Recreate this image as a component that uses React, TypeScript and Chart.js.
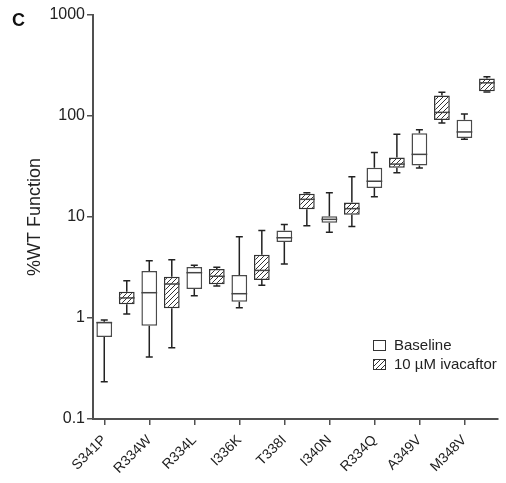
import React, { useEffect, useRef } from 'react';
import { Chart, registerables } from 'chart.js';
Chart.register(...registerables);

const mutations = ['S341P', 'R334W', 'R334L', 'I336K', 'T338I', 'I340N', 'R334Q', 'A349V', 'M348V'];
const baselineMin = [0.234, 0.41, 1.66, 1.26, 3.42, 7.05, 15.9, 30.5, 59];
const baselineQ1 = [0.65, 0.84, 1.94, 1.45, 5.66, 8.78, 19.4, 32.4, 60.5];
const baselineMedian = [0.9, 1.78, 2.81, 1.74, 6.23, 9.48, 22.6, 41.7, 69.5];
const baselineQ3 = [0.92, 2.92, 3.2, 2.66, 7.33, 10.16, 30.8, 67.3, 91.9];
const baselineMax = [0.955, 3.69, 3.32, 6.38, 8.44, 17.4, 43.6, 73.0, 104.8];
const ivaMin = [1.095, 0.508, 2.07, 2.11, 8.2, 8.03, 27.5, 85.1, 173];
const ivaQ1 = [1.37, 1.25, 2.16, 2.38, 11.9, 10.5, 30.8, 91.3, 176];
const ivaMedian = [1.58, 2.17, 2.59, 2.96, 14.96, 12.1, 33.4, 108.6, 213];
const ivaQ3 = [1.82, 2.56, 3.06, 4.24, 16.98, 13.9, 38.8, 160, 235];
const ivaMax = [2.34, 3.78, 3.18, 7.33, 17.4, 25.0, 65.8, 172, 244];
const yTicks = [0.1, 1, 10, 100, 1000];
const seriesNames = ['Baseline', '10 µM ivacaftor'];

const AXIS = '#505050';
const TEXT = '#222222';

function makeHatch(): CanvasPattern | string {
  const c = document.createElement('canvas');
  c.width = 5;
  c.height = 5;
  const g = c.getContext('2d');
  if (!g) return '#ccc';
  g.fillStyle = '#ffffff';
  g.fillRect(0, 0, 5, 5);
  g.strokeStyle = '#333333';
  g.lineWidth = 1;
  g.beginPath();
  g.moveTo(-1, 6);
  g.lineTo(6, -1);
  g.moveTo(-1, 1);
  g.lineTo(1, -1);
  g.moveTo(4, 6);
  g.lineTo(6, 4);
  g.stroke();
  const p = g.createPattern(c, 'repeat');
  return p || '#ccc';
}

const groups = [
  { min: baselineMin, q1: baselineQ1, med: baselineMedian, q3: baselineQ3, max: baselineMax },
  { min: ivaMin, q1: ivaQ1, med: ivaMedian, q3: ivaQ3, max: ivaMax },
];

const whiskerPlugin = {
  id: 'whiskers',
  afterDatasetsDraw(chart: any) {
    const ctx = chart.ctx;
    const y = chart.scales.y;
    const cap = 3.5;
    ctx.save();
    groups.forEach((g, d) => {
      const meta = chart.getDatasetMeta(d);
      mutations.forEach((_, i) => {
        const el: any = meta.data[i * 2 + d];
        if (!el) return;
        const x = el.x;
        const hw = el.width / 2;
        const pMax = y.getPixelForValue(g.max[i]);
        const pMin = y.getPixelForValue(g.min[i]);
        const pQ1 = y.getPixelForValue(g.q1[i]);
        const pQ3 = y.getPixelForValue(g.q3[i]);
        const pMed = y.getPixelForValue(g.med[i]);
        ctx.strokeStyle = '#222';
        ctx.lineWidth = 1.5;
        ctx.beginPath();
        ctx.moveTo(x, pQ3);
        ctx.lineTo(x, pMax);
        ctx.moveTo(x - cap, pMax);
        ctx.lineTo(x + cap, pMax);
        ctx.moveTo(x, pQ1);
        ctx.lineTo(x, pMin);
        ctx.moveTo(x - cap, pMin);
        ctx.lineTo(x + cap, pMin);
        ctx.stroke();
        ctx.strokeStyle = '#444';
        ctx.beginPath();
        ctx.moveTo(x - hw, pMed);
        ctx.lineTo(x + hw, pMed);
        ctx.stroke();
      });
    });
    ctx.restore();
  },
};

const legendPlugin = {
  id: 'customLegend',
  afterDraw(chart: any) {
    const ctx = chart.ctx;
    ctx.save();
    chart.data.datasets.forEach((ds: any, i: number) => {
      const bx = 373;
      const by = 340 + i * 19;
      ctx.fillStyle = ds.backgroundColor;
      ctx.fillRect(bx, by, 13, 11);
      ctx.strokeStyle = '#333';
      ctx.lineWidth = 1;
      ctx.strokeRect(bx + 0.5, by + 0.5, 12, 10);
      ctx.fillStyle = TEXT;
      ctx.font = "15px 'Liberation Sans', Arial, sans-serif";
      ctx.textBaseline = 'middle';
      ctx.textAlign = 'left';
      ctx.fillText(ds.label, 394, by + 6);
    });
    ctx.font = "bold 18px 'Liberation Sans', Arial, sans-serif";
    ctx.fillStyle = '#111';
    ctx.textBaseline = 'alphabetic';
    ctx.fillText('C', 12, 26);
    ctx.restore();
  },
};

export default function App() {
  const ref = useRef<HTMLCanvasElement | null>(null);
  useEffect(() => {
    if (!ref.current) return;
    Chart.defaults.font.family = "'Liberation Sans', Arial, sans-serif";
    const hatch = makeHatch();
    const labels = mutations.flatMap((m) => [m, '']);
    const chart = new Chart(ref.current, {
      type: 'bar',
      data: {
        labels,
        datasets: [
          {
            label: seriesNames[0],
            data: mutations.flatMap((_, i) => [[baselineQ1[i], baselineQ3[i]], null]) as any,
            backgroundColor: '#ffffff',
            borderColor: '#4a4a4a',
            borderWidth: 1.5,
            borderSkipped: false,
            grouped: false,
            categoryPercentage: 1,
            barPercentage: 0.7,
          },
          {
            label: seriesNames[1],
            data: mutations.flatMap((_, i) => [null, [ivaQ1[i], ivaQ3[i]]]) as any,
            backgroundColor: hatch as any,
            borderColor: '#333333',
            borderWidth: 1.5,
            borderSkipped: false,
            grouped: false,
            categoryPercentage: 1,
            barPercentage: 0.7,
          },
        ],
      },
      options: {
        responsive: false,
        animation: false,
        layout: { padding: { left: 0, top: 15, right: 7, bottom: 0 } },
        plugins: { legend: { display: false }, tooltip: { enabled: false } },
        scales: {
          x: {
            type: 'category',
            offset: true,
            grid: {
              offset: false,
              drawOnChartArea: false,
              tickLength: 6,
              lineWidth: 1.5,
              color: (c: any) => (c.index % 2 === 0 ? AXIS : 'rgba(0,0,0,0)'),
            },
            border: { color: AXIS, width: 2 },
            ticks: {
              autoSkip: false,
              maxRotation: 45,
              minRotation: 45,
              padding: 7,
              color: TEXT,
              font: { size: 14 },
            },
            afterFit: (s: any) => {
              s.height = 64;
            },
          },
          y: {
            type: 'logarithmic',
            min: 0.1,
            max: 1000,
            afterBuildTicks: (s: any) => {
              s.ticks = yTicks.map((v) => ({ value: v }));
            },
            ticks: {
              autoSkip: false,
              padding: 2,
              color: TEXT,
              font: { size: 16 },
              callback: (v: any) => String(v),
            },
            grid: { drawOnChartArea: false, tickLength: 6, lineWidth: 1.5, color: AXIS },
            border: { color: AXIS, width: 2 },
            title: {
              display: true,
              text: '%WT Function',
              color: TEXT,
              font: { size: 18 },
              padding: { top: 24, bottom: 0 },
            },
            afterFit: (s: any) => {
              s.width = 93;
            },
          },
        },
      } as any,
      plugins: [whiskerPlugin, legendPlugin],
    });
    return () => chart.destroy();
  }, []);
  return (
    <div style={{ position: 'fixed', left: 0, top: 0, width: 506, height: 483, background: '#fff' }}>
      <canvas ref={ref} width={506} height={483} style={{ display: 'block' }} />
    </div>
  );
}
